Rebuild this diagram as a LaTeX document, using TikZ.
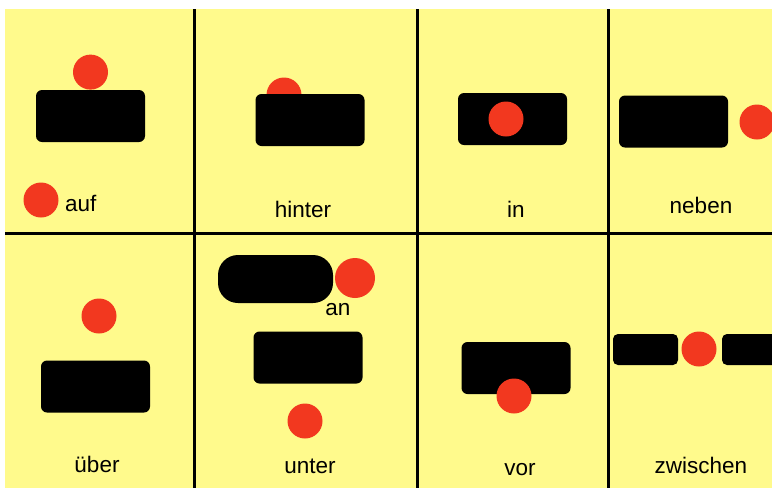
\documentclass[tikz,border=0pt]{standalone}
\usepackage{fontspec}
\setmainfont{Liberation Sans}
\usetikzlibrary{positioning}
\definecolor{cardyellow}{HTML}{FFFA8C}
\definecolor{ballred}{HTML}{F2381F}

\begin{document}
\begin{tikzpicture}[x=1pt, y=-1pt,
          blk/.style={fill=black, rounded corners=6pt, minimum width=109pt, minimum height=52pt, inner sep=0pt},
          ball/.style={circle, fill=ballred, minimum size=35pt, inner sep=0pt},
          word/.style={font=\fontsize{22.5}{26}\selectfont, anchor=base, inner sep=0pt},
          sepline/.style={line width=3pt}]
        \clip (0,0) rectangle (772,488);
        \fill[white] (0,0) rectangle (772,488);
        \fill[cardyellow] (5,9) rectangle (772,488);
        % card borders
        \draw[sepline] (5,233) -- (772,233);
        \draw[sepline] (194,9) -- (194,488);
        \draw[sepline] (417,9) -- (417,488);
        \draw[sepline] (608,9) -- (608,488);
        % auf
        \node[blk] (aufblock) at (90.5,116) {};
        \node[ball, above=0pt of aufblock] (aufball) {};
        \node[ball] (aufdot) at (41,200) {};
        \node[word, anchor=base west] (auftext) at (65,211) {auf};
        % hinter
        \node[ball] (hinterball) at (284,95) {};
        \node[blk] (hinterblock) at (310,120) {};
        \node[word] (hintertext) at (303,217) {hinter};
        % in
        \node[blk] (inblock) at (512.5,119) {};
        \node[ball] (inball) at (506,119) {};
        \node[word] (intext) at (516,217) {in};
        % neben
        \node[blk] (nebenblock) at (673.5,121.5) {};
        \node[ball] (nebenball) at (757,122) {};
        \node[word] (nebentext) at (701,213) {neben};
        % über
        \node[blk] (ueberblock) at (95.5,386.5) {};
        \node[ball] (ueberball) at (99,316) {};
        \node[word] (uebertext) at (97,472) {über};
        % an / unter
        \node[blk, minimum width=115pt, minimum height=48pt, rounded corners=20pt] (anblock) at (275.5,279) {};
        \node[ball, minimum size=40pt] (anball) at (355,278) {};
        \node[word] (antext) at (338,315) {an};
        \node[blk] (unterblock) at (308,357.5) {};
        \node[ball] (unterball) at (305,421) {};
        \node[word] (untertext) at (310,473) {unter};
        % vor
        \node[blk] (vorblock) at (516,368) {};
        \node[ball] (vorball) at (514,396) {};
        \node[word] (vortext) at (520,475) {vor};
        % zwischen
        \node[blk, minimum width=65pt, minimum height=31pt, rounded corners=5pt] (zwleft) at (645.5,349.5) {};
        \node[ball] (zwball) at (699,349) {};
        \node[blk, minimum width=65pt, minimum height=31pt, rounded corners=5pt] (zwright) at (754.5,349.5) {};
        \node[word] (zwtext) at (701,473) {zwischen};
      \end{tikzpicture}
\end{document}
